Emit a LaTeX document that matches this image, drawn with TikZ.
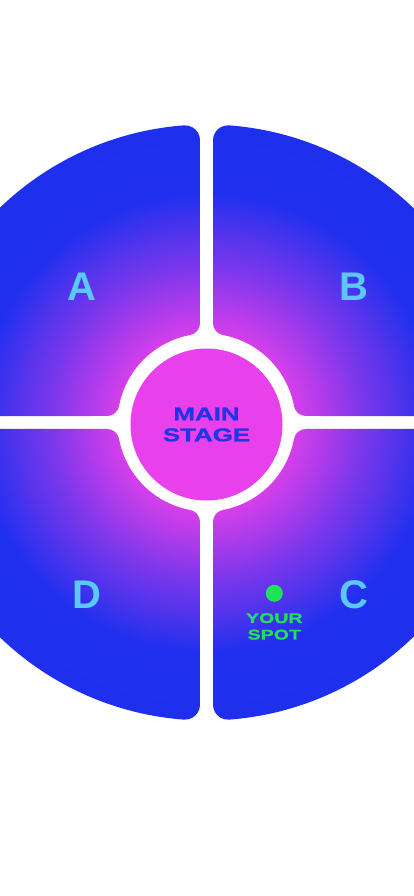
\documentclass[tikz,border=0pt]{standalone}
\usepackage{fontspec}
\usepackage{xcolor}
\usepackage{tikz}
\usetikzlibrary{positioning}
\newfontfamily\widefont{Liberation Sans}[FakeStretch=1.4, FakeBold=1.2]
\newfontfamily\zonefont{Liberation Sans}
\definecolor{stageblue}{HTML}{1E30EE}
\definecolor{stagepink}{HTML}{E840EA}
\definecolor{glowa}{HTML}{E440EA}
\definecolor{glowb}{HTML}{B43CEB}
\definecolor{glowc}{HTML}{7D37EB}
\definecolor{glowd}{HTML}{5234EC}
\definecolor{glowe}{HTML}{2030EE}
\definecolor{stageink}{HTML}{2035E8}
\definecolor{zonecyan}{HTML}{5CC8F5}
\definecolor{spotgreen}{HTML}{1EE35A}
\pgfdeclareradialshading{stageglow}{\pgfpoint{0bp}{0bp}}{%
  color(0bp)=(stagepink); color(6.5bp)=(glowa); color(9.6bp)=(glowb);
  color(13bp)=(glowc); color(16bp)=(glowd); color(19.3bp)=(glowe);
  color(25bp)=(stageblue); color(50bp)=(stageblue)}
\tikzset{
  zonelabel/.style={text=zonecyan, inner sep=0pt,
    font=\zonefont\bfseries\fontsize{40}{40}\selectfont},
  stagedisc/.style={circle, fill=stagepink, minimum size=152pt,
    inner sep=0pt, text=stageink, align=center,
    font=\widefont\bfseries\fontsize{18.5}{21}\selectfont},
  spotdot/.style={circle, fill=spotgreen, minimum size=17pt, inner sep=0pt},
  spotlabel/.style={text=spotgreen, inner sep=0pt, align=center,
    font=\widefont\bfseries\fontsize{14}{16.5}\selectfont},
}
\begin{document}
\begin{tikzpicture}[x=1pt, y=1pt]
    \useasboundingbox (-206.5,-473.5) rectangle (207.5,422.5);
    \fill[white] (-206.5,-473.5) rectangle (207.5,422.5);
    \pgfmathsetmacro{\R}{298}
    \pgfmathsetmacro{\Ri}{89}
    \pgfmathsetmacro{\g}{6.5}
    \pgfmathsetmacro{\rA}{15}
    \pgfmathsetmacro{\rB}{12}
    \pgfmathsetmacro{\cAx}{\g+\rA}
    \pgfmathsetmacro{\cAy}{100*sqrt(((\R-\rA)/100)^2-(\cAx/100)^2)}
    \pgfmathsetmacro{\tA}{atan(\cAy/\cAx)}
    \pgfmathsetmacro{\cBx}{\g+\rB}
    \pgfmathsetmacro{\cBy}{100*sqrt(((\Ri+\rB)/100)^2-(\cBx/100)^2)}
    \pgfmathsetmacro{\tB}{atan(\cBy/\cBx)}
    \foreach \sx/\sy in {1/1,-1/1,-1/-1,1/-1} {
      \begin{scope}[xscale=\sx, yscale=\sy]
        \clip (\tB:\Ri) arc[start angle=\tB+180, end angle=180, radius=\rB]
          -- (\g,\cAy) arc[start angle=180, end angle=\tA, radius=\rA]
          arc[start angle=\tA, end angle=90-\tA, radius=\R]
          arc[start angle=90-\tA, end angle=-90, radius=\rA]
          -- (\cBy,\g) arc[start angle=-90, end angle=-90-\tB, radius=\rB]
          arc[start angle=90-\tB, end angle=\tB, radius=\Ri] -- cycle;
        \shade[shading=stageglow] (0,0) circle[radius=\R];
      \end{scope}
    }
    \node[stagedisc] (stage) at (0,-2) {MAIN\\STAGE};
    \node[zonelabel] (zoneA) at (-124.5,135.5) {A};
    \node[zonelabel] (zoneB) at (147.5,135.5) {B};
    \node[zonelabel] (zoneC) at (147.5,-172.5) {C};
    \node[zonelabel] (zoneD) at (-119.5,-172) {D};
    \node[spotdot] (spot) at (67.8,-170.8) {};
    \node[spotlabel, below=11pt of spot] (spottext) {YOUR\\SPOT};
\end{tikzpicture}
\end{document}
